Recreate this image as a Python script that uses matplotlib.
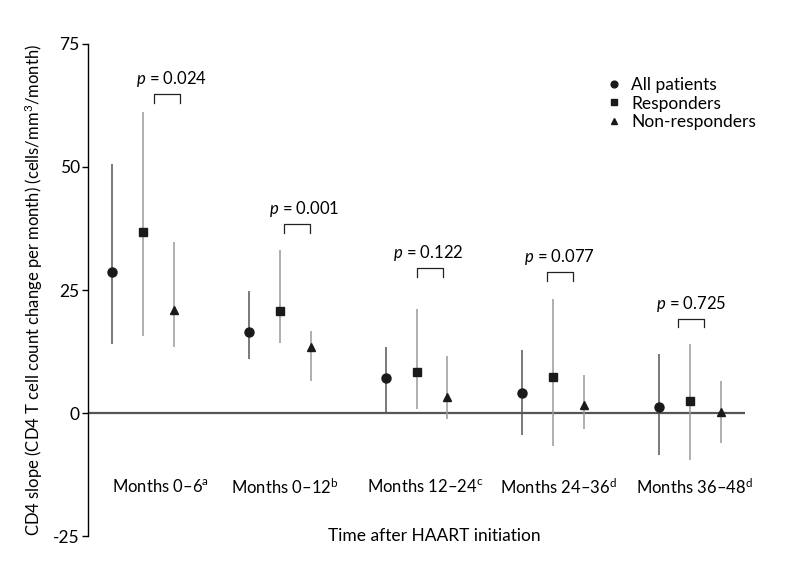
import matplotlib
matplotlib.use('Agg')
import matplotlib.pyplot as plt
import numpy as np

plt.rcParams['font.family'] = ['Lato', 'DejaVu Sans']
plt.rcParams['mathtext.fontset'] = 'custom'
plt.rcParams['mathtext.rm'] = 'Lato'
plt.rcParams['mathtext.it'] = 'Lato:italic'
plt.rcParams['axes.unicode_minus'] = False

# ----------- DATA ---------- #
groups = ['Months 0–6', 'Months 0–12', 'Months 12–24', 'Months 24–36', 'Months 36–48']
group_sup = ['a', 'b', 'c', 'd', 'd']

all_mid = [28.7, 16.4, 7.1, 4.1, 1.2]
all_lo = [14.0, 11.0, 0.0, -4.5, -8.5]
all_hi = [50.7, 24.8, 13.5, 12.8, 11.9]

resp_mid = [36.7, 20.8, 8.3, 7.3, 2.5]
resp_lo = [15.7, 14.2, 0.8, -6.7, -9.5]
resp_hi = [61.1, 33.1, 21.1, 23.1, 14.1]

non_mid = [20.9, 13.4, 3.3, 1.7, 0.3]
non_lo = [13.5, 6.6, -1.3, -3.3, -6.1]
non_hi = [34.8, 16.7, 11.6, 7.8, 6.6]

p_values = ['0.024', '0.001', '0.122', '0.077', '0.725']

# layout offsets (from group centre, x in category units, y in data units)
bracket_left = [0.078, 0.03, 0.005, -0.05, -0.09]
bracket_top = [64.8, 38.4, 29.5, 28.7, 19.2]
p_text_x = [0.21, 0.175, 0.088, 0.044, 0.01]
label_dx = [0.13, 0.04, 0.06, 0.04, 0.03]

# ----------- PLOT ---------- #
fig = plt.figure(figsize=(7.87, 5.75), dpi=100)
ax = fig.add_axes([0.112, 0.0678, 0.8346, 0.8557])

x = np.arange(len(groups))
off = 0.226

series = [
    ('All patients', all_mid, all_lo, all_hi, -off, 'o', '#555555', 6.5),
    ('Responders', resp_mid, resp_lo, resp_hi, 0, 's', '#9a9a9a', 6.0),
    ('Non-responders', non_mid, non_lo, non_hi, off, '^', '#9a9a9a', 6.0),
]

ax.axhline(0, color='#555555', lw=1.6, zorder=1)

for name, mid, lo, hi, dx, mk, lc, ms in series:
    xs = x + dx
    ax.vlines(xs, lo, hi, color=lc, lw=1.1, zorder=2)
    ax.plot(xs, mid, linestyle='none', marker=mk, color='#1a1a1a',
            markersize=ms, label=name, zorder=3)

# brackets with p-values
for i, p in enumerate(p_values):
    x1 = x[i] + bracket_left[i]
    x2 = x1 + 0.19
    top = bracket_top[i]
    ax.plot([x1, x1, x2, x2], [top - 1.8, top, top, top - 1.8],
            color='#222222', lw=0.9)
    ax.text(x[i] + p_text_x[i], top + 3.0, '$p$ = ' + p, ha='center',
            va='center', fontsize=12)

# category labels inside the axes
for i, g in enumerate(groups):
    ax.text(x[i] + label_dx[i], -15.0, g + r'$^{\mathrm{' + group_sup[i] + '}}$',
            ha='center', va='center', fontsize=12)

ax.text(2.13, -25, 'Time after HAART initiation', ha='center', va='center',
        fontsize=12.5)

ax.set_xlim(-0.4, 4.4)
ax.set_ylim(-25, 75)
ax.set_yticks([-25, 0, 25, 50, 75])
ax.set_xticks([])
for s in ['top', 'right', 'bottom']:
    ax.spines[s].set_visible(False)
ax.spines['left'].set_linewidth(1.0)
ax.tick_params(axis='y', direction='out', length=4, width=1, labelsize=12.5, pad=2)

ax.set_ylabel('CD4 slope (CD4 T cell count change per month) (cells/mm$^{3}$/month)',
              fontsize=12, labelpad=6)

ax.legend(loc='upper left', bbox_to_anchor=(0.79, 0.933), frameon=False,
          fontsize=12.5, handlelength=0.8, handletextpad=0.6, labelspacing=0.15,
          borderpad=0, borderaxespad=0, markerscale=0.75)

fig.savefig('out.png', dpi=100)
